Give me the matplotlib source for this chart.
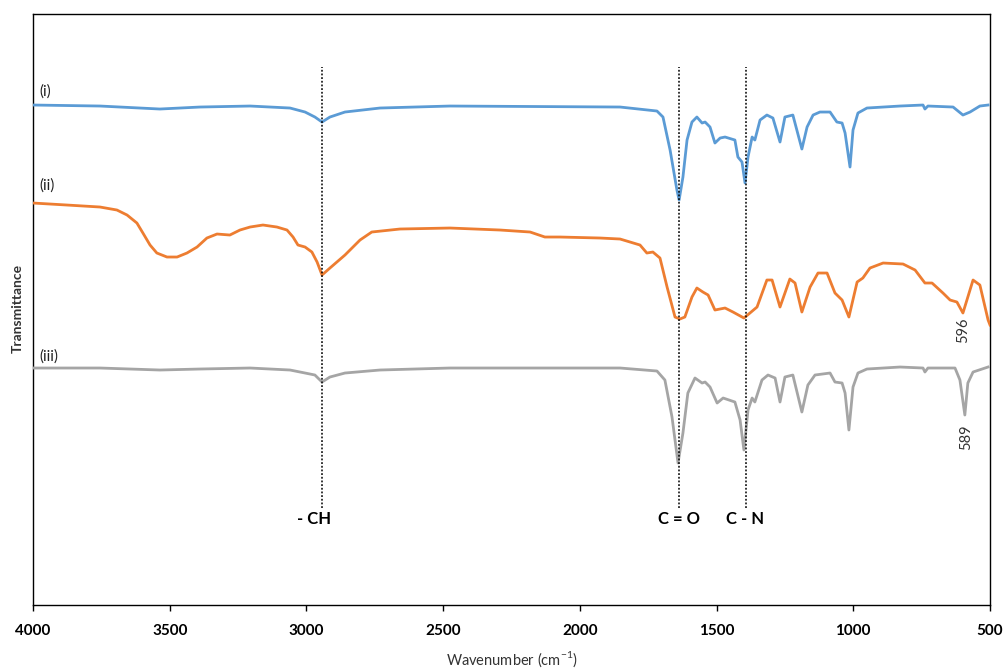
import numpy as np
import matplotlib
matplotlib.use("Agg")
import matplotlib.pyplot as plt

plt.rcParams['font.family'] = ['Lato', 'DejaVu Sans']

# FTIR spectra, wavenumber (cm-1) vs stacked transmittance (a.u.)
wn_i = [4000, 3755, 3536, 3389, 3206, 3060, 3005, 2969, 2943, 2914, 2859, 2731,
        2475, 1853, 1718, 1696, 1670, 1645, 1637, 1623, 1608, 1590, 1572, 1553,
        1542, 1524, 1506, 1487, 1469, 1433, 1422, 1407, 1396, 1385, 1370, 1360,
        1341, 1316, 1294, 1268, 1250, 1221, 1188, 1169, 1147, 1122, 1085, 1060,
        1041, 1030, 1012, 1001, 983, 950, 829, 745, 738, 727, 635, 599, 573, 537, 507]
t_i = [500, 499, 496, 498, 499, 497, 493, 488, 483, 488, 493, 497,
       499, 498, 494, 488, 455, 415, 405, 428, 465, 483, 488, 482,
       483, 478, 462, 467, 468, 465, 448, 443, 422, 448, 468, 465,
       485, 490, 487, 463, 488, 490, 456, 478, 490, 493, 493, 483,
       482, 472, 438, 475, 492, 497, 499, 500, 496, 499, 498, 490, 493, 499, 500]

wn_ii = [4000, 3876, 3755, 3693, 3656, 3620, 3598, 3572, 3547, 3510, 3473, 3437,
         3400, 3364, 3327, 3280, 3243, 3206, 3159, 3108, 3071, 3049, 3031, 3005,
         2980, 2961, 2943, 2914, 2859, 2804, 2761, 2658, 2475, 2292, 2182, 2128,
         2073, 1926, 1853, 1780, 1755, 1733, 1707, 1681, 1652, 1634, 1616, 1590,
         1572, 1550, 1531, 1506, 1469, 1440, 1400, 1378, 1352, 1316, 1297, 1268,
         1232, 1213, 1188, 1158, 1129, 1096, 1067, 1041, 1016, 986, 965, 939,
         891, 818, 774, 738, 712, 672, 646, 621, 599, 562, 537, 507, 500]
t_ii = [402, 400, 398, 395, 390, 382, 372, 360, 352, 348, 348, 352,
        358, 367, 371, 370, 375, 378, 380, 378, 375, 368, 360, 358,
        353, 343, 330, 337, 350, 365, 373, 376, 377, 375, 373, 368,
        368, 367, 366, 360, 352, 353, 347, 318, 288, 286, 288, 308,
        317, 313, 310, 295, 297, 293, 287, 292, 298, 325, 325, 298,
        326, 322, 293, 318, 332, 332, 312, 305, 288, 323, 327, 337,
        342, 341, 335, 322, 322, 312, 305, 303, 292, 325, 320, 285, 280]

wn_iii = [4000, 3755, 3536, 3389, 3206, 3060, 3005, 2969, 2943, 2914, 2859, 2731,
          2475, 1853, 1718, 1689, 1663, 1641, 1623, 1605, 1579, 1553, 1542, 1524,
          1498, 1476, 1433, 1414, 1400, 1385, 1370, 1360, 1334, 1312, 1286, 1268,
          1250, 1221, 1188, 1166, 1140, 1085, 1067, 1041, 1030, 1016, 1001, 983,
          950, 829, 745, 738, 727, 628, 610, 592, 581, 562, 507]
t_iii = [237, 237, 235, 236, 237, 235, 232, 230, 223, 228, 232, 235,
         237, 237, 234, 225, 188, 142, 172, 212, 227, 222, 223, 218,
         202, 207, 203, 185, 155, 195, 207, 203, 225, 230, 227, 203,
         228, 230, 193, 220, 230, 232, 223, 222, 212, 175, 218, 232,
         236, 238, 237, 233, 237, 237, 225, 190, 222, 233, 238]

series = [
    (wn_i, t_i, '#5B9BD5', '(i)', 513),
    (wn_ii, t_ii, '#ED7D31', '(ii)', 419),
    (wn_iii, t_iii, '#A5A5A5', '(iii)', 248),
]

# functional group markers
band_pos = [2943, 1637, 1392]
band_text = ['- CH', 'C = O', 'C - N']
band_text_x = [2972, 1639, 1394]

fig = plt.figure(figsize=(10.06, 6.68), dpi=100)
ax = fig.add_axes([0.0328, 0.0943, 0.9513, 0.8847])

for wn, t, col, lab, ylab in series:
    ax.plot(wn, t, color=col, lw=2.0, solid_joinstyle='round', zorder=3)
    ax.text(3975, ylab, lab, fontsize=11, ha='left', va='center', color='#222222')

ax.vlines(band_pos, 97, 538, colors='black', linestyles=(0, (1.2, 1.2)), lw=1.1, zorder=4)
for x, s in zip(band_text_x, band_text):
    ax.text(x, 86, s, fontsize=12, fontweight='bold', ha='center', va='center')

ax.text(599, 275, '596', rotation=90, fontsize=10.5, ha='center', va='center', color='#333333')
ax.text(588, 168, '589', rotation=90, fontsize=10.5, ha='center', va='center', color='#333333')

ax.set_xlim(4000, 500)
ax.set_ylim(0, 591)
ax.set_xticks(np.arange(4000, 499, -500))
ax.set_xticklabels([str(v) for v in range(4000, 499, -500)], fontsize=11, fontweight='bold')
ax.tick_params(axis='x', direction='out', length=4, width=1, pad=10)
ax.set_yticks([])
for sp in ax.spines.values():
    sp.set_linewidth(1.0)
    sp.set_color('black')

ax.set_xlabel('Wavenumber (cm$^{\\mathregular{-1}}$)', fontsize=10.5, color='#333333', labelpad=8)
fig.text(0.018, 0.539, 'Transmittance', rotation=90, fontsize=10, fontweight='bold',
         ha='center', va='center', color='#333333')

fig.savefig('out.png', dpi=100)
